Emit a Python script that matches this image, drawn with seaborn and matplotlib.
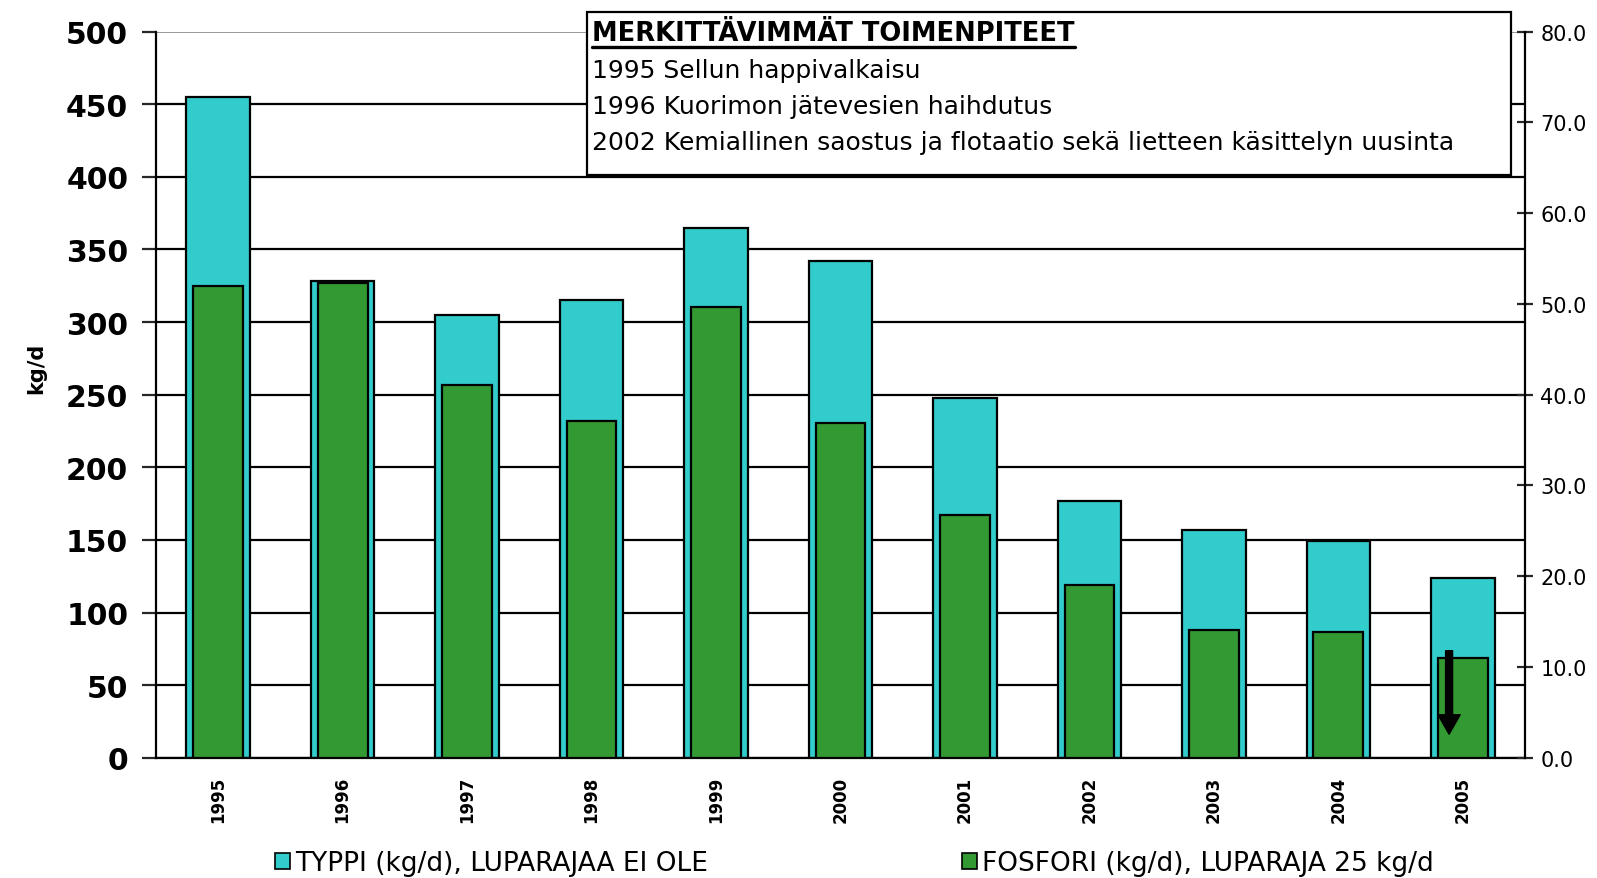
import numpy as np
import pandas as pd
import seaborn as sns
import matplotlib.pyplot as plt
from matplotlib.patches import Patch, Rectangle
from matplotlib.lines import Line2D

years = ['1995', '1996', '1997', '1998', '1999', '2000', '2001', '2002', '2003', '2004', '2005']
typpi = [455, 328, 305, 315, 365, 342, 248, 177, 157, 149, 124]          # kg/d, left axis
fosfori = [52.0, 52.3, 41.1, 37.1, 49.7, 36.9, 26.7, 19.0, 14.1, 13.9, 11.0]  # kg/d, right axis
box_title = 'MERKITTÄVIMMÄT TOIMENPITEET'
box_lines = ['1995 Sellun happivalkaisu',
             '1996 Kuorimon jätevesien haihdutus',
             '2002 Kemiallinen saostus ja flotaatio sekä lietteen käsittelyn uusinta']
typpi_label = 'TYPPI (kg/d), LUPARAJAA EI OLE'
fosfori_label = 'FOSFORI (kg/d), LUPARAJA 25 kg/d'

cyan = '#33CCCC'
green = '#339933'

df = pd.DataFrame({'year': years, 'typpi': typpi, 'fosfori': fosfori})

sns.set_style('white')
plt.rcParams['font.family'] = ['DejaVu Sans']

fig = plt.figure(figsize=(15.97, 8.79), dpi=100)
ax = fig.add_axes([156 / 1597, 1 - 758.8 / 879, (1525 - 156) / 1597, (758.8 - 32.6) / 879])

sns.barplot(data=df, x='year', y='typpi', color=cyan, saturation=1, width=0.51,
            edgecolor='black', linewidth=1.6, errorbar=None, ax=ax, zorder=2)
ax.set_ylim(0, 500)
ax.set_yticks(np.arange(0, 501, 50))
ax.set_axisbelow(True)
ax.yaxis.grid(True, color='black', linewidth=1.6)
ax.yaxis.get_gridlines()[-1].set_color('#888888')
ax.yaxis.get_gridlines()[-1].set_linewidth(1.2)
ax.tick_params(axis='y', direction='out', length=10, width=1.6, labelsize=21.5, pad=10,
               labelcolor='black')
for t in ax.get_yticklabels():
    t.set_fontweight('bold')
ax.set_ylabel('kg/d', fontsize=15, fontweight='bold', color='black')
ax.yaxis.set_label_coords(-0.0805, 0.537)
ax.set_xlabel('')

ax2 = ax.twinx()
sns.barplot(data=df, x='year', y='fosfori', color=green, saturation=1, width=0.40,
            edgecolor='black', linewidth=1.6, errorbar=None, ax=ax2)
ax2.set_ylim(0, 80)
ax2.set_yticks(np.arange(0, 81, 10))
ax2.set_yticklabels([f'{v:.1f}' for v in np.arange(0, 81, 10)])
ax2.tick_params(axis='y', direction='inout', length=12, width=1.6, labelsize=15, pad=5,
                labelcolor='black')
ax2.set_ylabel('')
ax2.set_xlabel('')

# x ticks: labels at centres, tick marks at category borders
ax.set_xlim(-0.5, len(years) - 0.5)
ax.set_xticks(range(len(years)))
ax.set_xticklabels(years, rotation=90, fontsize=12, fontweight='bold', color='black')
ax.tick_params(axis='x', length=0, pad=13)
ax.set_xticks(np.arange(-0.5, len(years), 1), minor=True)
ax.tick_params(axis='x', which='minor', direction='out', length=9, width=1.6)

for a in (ax, ax2):
    for s in a.spines.values():
        s.set_visible(False)
ax.spines['left'].set_visible(True)
ax.spines['bottom'].set_visible(True)
ax2.spines['right'].set_visible(True)
for s in (ax.spines['left'], ax.spines['bottom'], ax2.spines['right']):
    s.set_color('black')
    s.set_linewidth(1.6)

# arrow in the 2005 bar
ax2.annotate('', xy=(9.89, 2.6), xytext=(9.89, 11.8),
             arrowprops=dict(facecolor='black', edgecolor='black', width=5,
                             headwidth=16, headlength=14, shrink=0))

# measures box
fig.add_artist(Rectangle((586.5 / 1597, 1 - 175.6 / 879), (1511 - 586.5) / 1597,
                         (175.6 - 13) / 879, transform=fig.transFigure,
                         facecolor='white', edgecolor='black', linewidth=1.6, zorder=5))
title = fig.text(592 / 1597, 1 - 34 / 879, box_title, fontsize=18.5, fontweight='bold',
                 va='center', ha='left', zorder=6, color='black')
for i, line in enumerate(box_lines):
    fig.text(592 / 1597, 1 - (71 + 36.1 * i) / 879, line, fontsize=18,
             va='center', ha='left', zorder=6, color='black')
fig.canvas.draw()
bb = title.get_window_extent()
fig.add_artist(Line2D([bb.x0 / 1597, bb.x1 / 1597], [1 - 47.5 / 879] * 2,
                      transform=fig.transFigure, color='black', linewidth=2.4, zorder=6))

# legend
for handle_color, label, x0 in [(cyan, typpi_label, 275), (green, fosfori_label, 962)]:
    leg = fig.legend(handles=[Patch(facecolor=handle_color, edgecolor='black', linewidth=1.2)],
                     labels=[label], loc='center left',
                     bbox_to_anchor=(x0 / 1597, 1 - 864 / 879),
                     frameon=False, fontsize=19, handlelength=0.55, handleheight=0.55,
                     handletextpad=0.2, borderpad=0, borderaxespad=0)
    for t in leg.get_texts():
        t.set_color('black')

fig.savefig('out.png', dpi=100)
